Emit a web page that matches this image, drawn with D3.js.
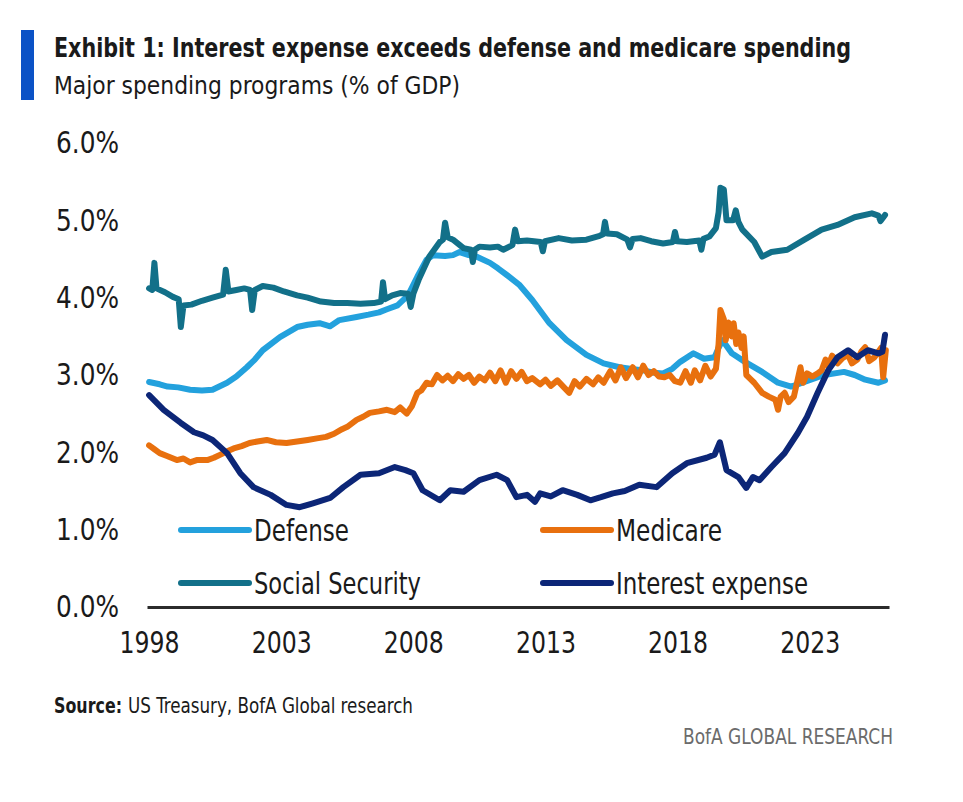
<!DOCTYPE html>
<html>
<head>
<meta charset="utf-8">
<script src="https://cdn.jsdelivr.net/npm/d3@7"></script>
<style>
  body { margin: 0; background: #fff; }
  svg { display: block; }
  text { font-family: "Liberation Sans Narrow", "Arial Narrow", "DejaVu Sans Condensed", sans-serif; fill: #1a1a1a; }
</style>
</head>
<body>
<div id="chart"></div>
<script>
// Values (% of GDP), [year, value]
const defense = [
  [1998.0, 2.91], [1998.4, 2.88], [1998.7, 2.85], [1999.1, 2.84], [1999.55, 2.81], [2000.0, 2.80],
  [2000.4, 2.81], [2000.95, 2.9], [2001.3, 2.98], [2001.7, 3.10], [2002.0, 3.2], [2002.3, 3.32],
  [2002.95, 3.49], [2003.6, 3.62], [2004.0, 3.65], [2004.45, 3.67], [2004.85, 3.63], [2005.2, 3.71],
  [2005.85, 3.75], [2006.3, 3.78], [2006.7, 3.81], [2007.0, 3.85], [2007.4, 3.90], [2007.8, 4.03],
  [2008.15, 4.27], [2008.5, 4.49], [2008.75, 4.55], [2009.2, 4.54], [2009.5, 4.55], [2009.75, 4.59],
  [2010.1, 4.55], [2010.4, 4.53], [2010.9, 4.45], [2011.2, 4.38], [2011.55, 4.29], [2012.0, 4.17],
  [2012.5, 3.97], [2013.15, 3.67], [2013.8, 3.45], [2014.55, 3.26], [2015.2, 3.15], [2015.8, 3.10],
  [2016.2, 3.08], [2016.7, 3.06], [2017.1, 3.03], [2017.45, 3.02], [2017.8, 3.08], [2018.1, 3.17],
  [2018.6, 3.28], [2019.0, 3.21], [2019.4, 3.23], [2019.55, 3.35], [2019.7, 3.45], [2020.05, 3.28],
  [2020.55, 3.17], [2021.2, 3.04], [2021.8, 2.90], [2022.3, 2.85], [2022.8, 2.91], [2023.55, 3.00],
  [2024.3, 3.04], [2024.7, 3.0], [2025.1, 2.94], [2025.6, 2.90], [2025.85, 2.93]
];

const medicare = [
  [1998.0, 2.09], [1998.2, 2.04], [1998.4, 1.99], [1998.7, 1.95], [1999.05, 1.90], [1999.3, 1.92],
  [1999.55, 1.87], [1999.8, 1.90], [2000.2, 1.90], [2000.45, 1.93], [2000.7, 1.97], [2001.0, 2.02],
  [2001.2, 2.05], [2001.5, 2.08], [2001.8, 2.12], [2002.1, 2.14], [2002.45, 2.16], [2002.8, 2.13],
  [2003.2, 2.12], [2003.6, 2.14], [2004.0, 2.16], [2004.35, 2.18], [2004.7, 2.20], [2005.0, 2.24],
  [2005.3, 2.30], [2005.5, 2.33], [2005.85, 2.42], [2006.1, 2.46], [2006.35, 2.51], [2006.7, 2.53],
  [2007.0, 2.55], [2007.3, 2.52], [2007.5, 2.58], [2007.75, 2.50], [2007.95, 2.60], [2008.15, 2.77],
  [2008.3, 2.80], [2008.5, 2.90], [2008.7, 2.88], [2008.9, 3.00], [2009.1, 2.93], [2009.3, 2.99],
  [2009.5, 2.92], [2009.7, 3.01], [2009.9, 2.95], [2010.1, 3.0], [2010.3, 2.90], [2010.5, 2.98],
  [2010.7, 2.93], [2010.9, 3.03], [2011.1, 2.92], [2011.3, 3.06], [2011.5, 2.90], [2011.7, 3.05],
  [2011.9, 2.95], [2012.1, 3.04], [2012.3, 2.92], [2012.5, 2.96], [2012.8, 2.88], [2013.0, 2.94],
  [2013.2, 2.86], [2013.45, 2.93], [2013.7, 2.84], [2013.9, 2.77], [2014.1, 2.92], [2014.3, 2.85],
  [2014.55, 2.95], [2014.8, 2.88], [2015.0, 2.97], [2015.2, 2.90], [2015.45, 3.05], [2015.65, 2.93],
  [2015.85, 3.10], [2016.05, 2.96], [2016.3, 3.10], [2016.5, 2.97], [2016.7, 3.12], [2016.9, 3.0],
  [2017.1, 3.05], [2017.3, 2.98], [2017.5, 2.97], [2017.7, 3.0], [2017.9, 2.92], [2018.1, 2.90],
  [2018.3, 3.05], [2018.5, 2.90], [2018.65, 3.06], [2018.85, 2.93], [2019.05, 3.12], [2019.25, 2.98],
  [2019.45, 3.08], [2019.55, 3.4], [2019.62, 3.84], [2019.75, 3.72], [2019.82, 3.45], [2019.92, 3.68],
  [2020.05, 3.5], [2020.12, 3.67], [2020.22, 3.4], [2020.3, 3.55], [2020.42, 3.35], [2020.5, 3.5],
  [2020.6, 3.0], [2020.75, 2.95], [2020.9, 2.90], [2021.2, 2.77], [2021.45, 2.72], [2021.7, 2.68],
  [2021.8, 2.55], [2021.9, 2.72], [2022.05, 2.77], [2022.2, 2.65], [2022.4, 2.72], [2022.55, 2.95],
  [2022.65, 3.1], [2022.75, 2.9], [2022.9, 3.02], [2023.1, 2.98], [2023.3, 3.02], [2023.45, 3.06],
  [2023.6, 3.2], [2023.7, 3.12], [2023.85, 3.25], [2024.05, 3.15], [2024.25, 3.22], [2024.45, 3.26],
  [2024.6, 3.15], [2024.8, 3.20], [2024.95, 3.30], [2025.1, 3.36], [2025.25, 3.18], [2025.45, 3.23],
  [2025.6, 3.3], [2025.7, 3.35], [2025.78, 2.97], [2025.88, 3.32]
];

const socialSecurity = [
  [1998.0, 4.12], [1998.12, 4.10], [1998.2, 4.45], [1998.28, 4.12], [1998.6, 4.07], [1998.9, 4.01],
  [1999.12, 3.98], [1999.2, 3.62], [1999.3, 3.9], [1999.6, 3.91], [2000.0, 3.96], [2000.4, 4.0],
  [2000.8, 4.04], [2000.9, 4.36], [2001.0, 4.08], [2001.3, 4.10], [2001.6, 4.12], [2001.82, 4.1],
  [2001.9, 3.84], [2002.0, 4.1], [2002.3, 4.15], [2002.7, 4.13], [2003.1, 4.08], [2003.6, 4.03],
  [2004.0, 4.0], [2004.5, 3.95], [2005.0, 3.93], [2005.5, 3.93], [2006.0, 3.92], [2006.5, 3.93],
  [2006.78, 3.95], [2006.85, 4.2], [2006.93, 3.98], [2007.2, 4.03], [2007.5, 4.06], [2007.8, 4.05],
  [2007.9, 3.88], [2008.0, 4.05], [2008.2, 4.23], [2008.6, 4.53], [2009.0, 4.72], [2009.12, 4.75],
  [2009.2, 4.97], [2009.3, 4.78], [2009.5, 4.75], [2009.9, 4.64], [2010.18, 4.62], [2010.25, 4.46],
  [2010.33, 4.62], [2010.5, 4.66], [2010.9, 4.65], [2011.2, 4.66], [2011.4, 4.62], [2011.75, 4.68],
  [2011.85, 4.88], [2011.95, 4.73], [2012.3, 4.74], [2012.82, 4.72], [2012.9, 4.60], [2012.98, 4.73],
  [2013.5, 4.77], [2014.0, 4.74], [2014.55, 4.75], [2015.05, 4.8], [2015.18, 4.82], [2015.25, 4.98],
  [2015.33, 4.83], [2015.7, 4.82], [2016.1, 4.75], [2016.2, 4.65], [2016.3, 4.76], [2016.6, 4.77],
  [2017.0, 4.73], [2017.45, 4.70], [2017.82, 4.72], [2017.9, 4.85], [2017.98, 4.73], [2018.35, 4.72],
  [2018.82, 4.74], [2018.9, 4.62], [2018.98, 4.76], [2019.2, 4.79], [2019.45, 4.9], [2019.55, 5.1],
  [2019.62, 5.42], [2019.75, 5.4], [2019.85, 5.0], [2020.1, 5.0], [2020.2, 5.13], [2020.3, 4.98],
  [2020.45, 4.88], [2020.9, 4.72], [2021.2, 4.53], [2021.55, 4.59], [2022.15, 4.62], [2022.8, 4.75],
  [2023.45, 4.88], [2024.05, 4.94], [2024.7, 5.04], [2025.35, 5.09], [2025.6, 5.06], [2025.68, 4.99],
  [2025.85, 5.07]
];

const interestExpense = [
  [1998.0, 2.74], [1998.55, 2.55], [1999.2, 2.38], [1999.7, 2.26], [2000.05, 2.22], [2000.4, 2.16],
  [2000.95, 1.99], [2001.45, 1.73], [2001.95, 1.55], [2002.6, 1.45], [2003.2, 1.32], [2003.7, 1.29],
  [2004.2, 1.34], [2004.85, 1.41], [2005.35, 1.55], [2006.0, 1.71], [2006.7, 1.73], [2007.3, 1.81],
  [2007.7, 1.77], [2008.0, 1.73], [2008.35, 1.51], [2009.0, 1.38], [2009.4, 1.51], [2009.9, 1.49],
  [2010.5, 1.64], [2011.15, 1.71], [2011.55, 1.64], [2011.9, 1.42], [2012.3, 1.45], [2012.6, 1.36],
  [2012.8, 1.47], [2013.2, 1.43], [2013.65, 1.51], [2014.2, 1.45], [2014.7, 1.38], [2015.1, 1.42],
  [2015.55, 1.47], [2016.0, 1.50], [2016.55, 1.58], [2017.2, 1.55], [2017.8, 1.73], [2018.35, 1.86],
  [2019.1, 1.93], [2019.4, 1.97], [2019.6, 2.13], [2019.85, 1.77], [2020.3, 1.68], [2020.6, 1.54],
  [2020.85, 1.68], [2021.1, 1.64], [2021.55, 1.81], [2022.05, 1.99], [2022.55, 2.25], [2022.9, 2.46],
  [2023.3, 2.77], [2023.7, 3.06], [2024.05, 3.23], [2024.45, 3.32], [2024.8, 3.23], [2025.2, 3.32],
  [2025.6, 3.28], [2025.75, 3.3], [2025.85, 3.52]
];

const seriesNames = ["Defense", "Medicare", "Social Security", "Interest expense"];
const seriesColors = ["#23a1dd", "#e8700e", "#127089", "#0c2677"];
const yearTicks = [1998, 2003, 2008, 2013, 2018, 2023];
const pctTicks = [0, 1, 2, 3, 4, 5, 6];

const width = 963;
const height = 802;

// squeeze text to the narrow face of the original
function fit(sel, w) {
  sel.attr("textLength", w).attr("lengthAdjust", "spacingAndGlyphs");
}

const svg = d3.select("#chart")
  .append("svg")
  .attr("width", width)
  .attr("height", height);

// header
svg.append("rect")
  .attr("x", 21).attr("y", 30)
  .attr("width", 13).attr("height", 70)
  .attr("fill", "#0b52c6");

svg.append("text")
  .attr("x", 54).attr("y", 57)
  .style("font-size", "26px")
  .style("font-weight", "bold")
  .text("Exhibit 1: Interest expense exceeds defense and medicare spending")
  .call(fit, 797);

svg.append("text")
  .attr("x", 54).attr("y", 94)
  .style("font-size", "25px")
  .text("Major spending programs (% of GDP)")
  .call(fit, 406);

// scales
const x = d3.scaleLinear().domain([1997.92, 2026]).range([147, 889]);
const y = d3.scaleLinear().domain([0, 6]).range([607, 143]);

// y axis: labels only
const yAxis = svg.append("g")
  .attr("transform", "translate(119,0)")
  .call(d3.axisLeft(y).tickValues(pctTicks).tickSize(0).tickPadding(0)
    .tickFormat(d => d3.format(".1f")(d) + "%"));
yAxis.select(".domain").remove();
yAxis.selectAll("text")
  .style("font-size", "31px")
  .style("font-family", null)
  .attr("fill", "#1a1a1a")
  .call(fit, 63);

// x axis: baseline + year labels
const xAxis = svg.append("g")
  .attr("transform", `translate(0,${y(0)})`)
  .call(d3.axisBottom(x).tickValues(yearTicks).tickSize(0).tickPadding(24)
    .tickFormat(d3.format("d")));
xAxis.select(".domain")
  .attr("stroke", "#2b2b2b")
  .attr("stroke-width", 3);
xAxis.selectAll("text")
  .style("font-size", "31px")
  .style("font-family", null)
  .attr("fill", "#1a1a1a")
  .call(fit, 60);

// lines
const line = d3.line()
  .x(d => x(d[0]))
  .y(d => y(d[1]));

const allSeries = [defense, medicare, socialSecurity, interestExpense];

svg.append("g")
  .selectAll("path")
  .data(allSeries)
  .join("path")
  .attr("d", line)
  .attr("fill", "none")
  .attr("stroke", (d, i) => seriesColors[i])
  .attr("stroke-width", 6)
  .attr("stroke-linejoin", "round")
  .attr("stroke-linecap", "round");

// legend, 2x2
const legendX = [181, 543];
const legendY = [530, 583];
const legendW = [95, 106, 167, 192];
const legend = svg.append("g")
  .selectAll("g")
  .data(seriesNames)
  .join("g")
  .attr("transform", (d, i) => `translate(${legendX[i % 2]},${legendY[Math.floor(i / 2)]})`);

legend.append("line")
  .attr("x1", 0).attr("x2", 68)
  .attr("stroke", (d, i) => seriesColors[i])
  .attr("stroke-width", 6)
  .attr("stroke-linecap", "round");

legend.append("text")
  .attr("x", 73)
  .attr("dy", "0.35em")
  .style("font-size", "30px")
  .text(d => d)
  .each(function (d, i) { d3.select(this).call(fit, legendW[i]); });

// footer
svg.append("text")
  .attr("x", 54).attr("y", 713)
  .style("font-size", "21px")
  .style("font-weight", "bold")
  .text("Source:")
  .call(fit, 68);

svg.append("text")
  .attr("x", 128).attr("y", 713)
  .style("font-size", "21px")
  .text("US Treasury, BofA Global research")
  .call(fit, 285);

svg.append("text")
  .attr("x", 893).attr("y", 744)
  .attr("text-anchor", "end")
  .style("font-size", "21px")
  .style("fill", "#6b6b6b")
  .text("BofA GLOBAL RESEARCH")
  .call(fit, 210);
</script>
</body>
</html>
